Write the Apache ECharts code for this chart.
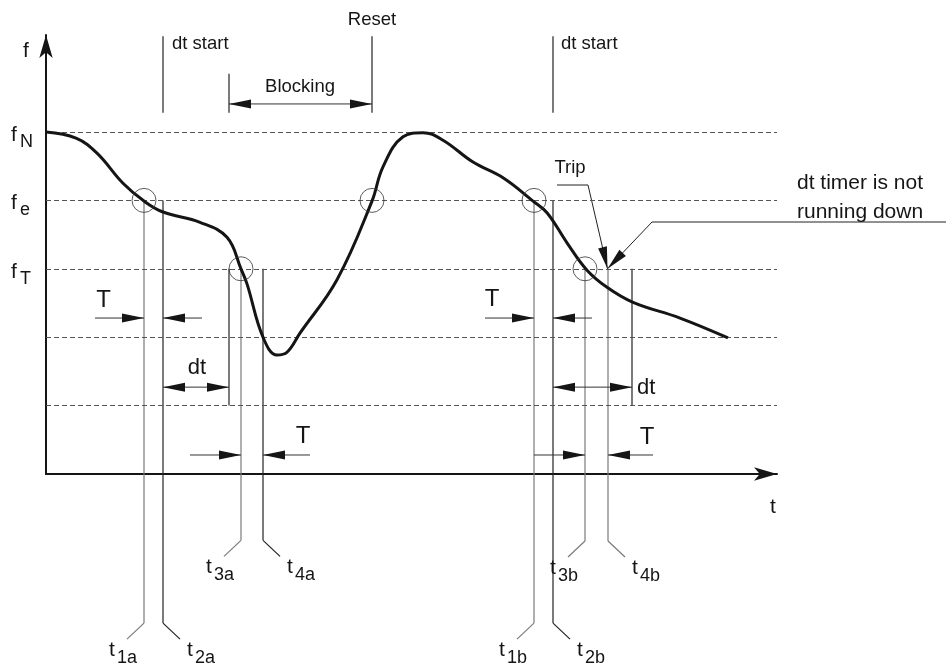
<!DOCTYPE html>
<html><head><meta charset="utf-8">
<script src="https://cdn.jsdelivr.net/npm/echarts@6/dist/echarts.min.js"></script>
<style>html,body{margin:0;padding:0;background:#fff}#c{width:946px;height:667px}</style>
</head><body><div id="c"></div>
<script>
// ---------- data (t in time units, f in frequency-level units) ----------
const levels = [5, 4, 3, 2, 1];
const levelLabels = [
  {f: 5, main: 'f', sub: 'N'},
  {f: 4, main: 'f', sub: 'e'},
  {f: 3, main: 'f', sub: 'T'}
];
const curveT = [0, 3.0, 5.1, 7.7, 9.8, 11.7, 15.4, 18.1, 19.5, 20.1, 21.7, 23.1, 24.1, 25.4, 29.1, 32.6, 33.7, 35.7, 37.7, 39.7, 42.7, 45.7, 48.7, 50.1, 52.1, 54.1, 56.1, 58.7, 63.4, 68.2];
const curveF = [5.0, 4.91, 4.69, 4.25, 3.99, 3.83, 3.68, 3.46, 3.0, 2.78, 2.0, 1.74, 1.78, 2.06, 2.84, 3.99, 4.49, 4.93, 4.99, 4.88, 4.56, 4.33, 3.99, 3.82, 3.38, 2.98, 2.73, 2.51, 2.28, 1.99];
const crossings = [[9.8, 4], [19.5, 3], [32.6, 4], [48.8, 4], [53.9, 3]];
// vertical time markers: name, t, top f, bottom f, leader side, tone
const timeMarkers = [
  {name: '1a', t: 9.8,  top: 4, bottom: -2.18, side: -1, tone: 'grey'},
  {name: '2a', t: 11.7, top: 4, bottom: -2.18, side: 1,  tone: 'dark'},
  {name: '3a', t: 19.5, top: 3, bottom: -0.97, side: -1, tone: 'grey'},
  {name: '4a', t: 21.7, top: 3, bottom: -0.97, side: 1,  tone: 'dark'},
  {name: '1b', t: 48.8, top: 4, bottom: -2.18, side: -1, tone: 'grey'},
  {name: '2b', t: 50.7, top: 4, bottom: -2.18, side: 1,  tone: 'dark'},
  {name: '3b', t: 53.9, top: 3, bottom: -0.98, side: -1, tone: 'grey'},
  {name: '4b', t: 56.2, top: 3, bottom: -0.98, side: 1,  tone: 'grey'}
];
// plain vertical guide segments: [t, f1, f2]
const guideLines = [
  [11.7, 6.40, 5.28], [50.7, 6.40, 5.28], [18.3, 5.85, 5.28],
  [32.6, 6.40, 5.28], [18.3, 3, 1], [58.6, 3, 1]
];
// single-head arrows [tFrom, tTo, f]
const singleArrows = [
  [4.9, 9.8, 2.28], [15.6, 11.7, 2.28], [14.4, 19.5, 0.278], [26.4, 21.7, 0.278],
  [43.9, 48.8, 2.28], [54.6, 50.7, 2.28], [48.8, 53.9, 0.278], [60.7, 56.2, 0.278]
];
// double-head arrows [t1, t2, f]
const doubleArrows = [[11.7, 18.3, 1.27], [50.7, 58.6, 1.27], [18.3, 32.6, 5.41]];
// pointer polylines (arrowhead at last point)
const pointers = [
  [[51.1, 4.225], [54.2, 4.225], [56.15, 3.0]],
  [[90, 3.684], [60.6, 3.684], [56.15, 3.0]]
];
// text annotations
const notes = [
  {text: 'f', t: -2.0, f: 6.18, role: 'axis', align: 'center'},
  {text: 't', t: 72.7, f: -0.48, role: 'axis', align: 'center'},
  {text: 'dt start', t: 12.6, f: 6.29, role: 'label', align: 'left'},
  {text: 'dt start', t: 51.5, f: 6.29, role: 'label', align: 'left'},
  {text: 'Reset', t: 32.6, f: 6.64, role: 'label', align: 'center'},
  {text: 'Blocking', t: 25.4, f: 5.66, role: 'label', align: 'center'},
  {text: 'Trip', t: 52.4, f: 4.47, role: 'label', align: 'center'},
  {text: 'dt timer is not', t: 75.1, f: 4.25, role: 'big', align: 'left'},
  {text: 'running down', t: 75.1, f: 3.83, role: 'big', align: 'left'},
  {text: 'T', t: 5.75, f: 2.54, role: 'T', align: 'center'},
  {text: 'T', t: 25.7, f: 0.556, role: 'T', align: 'center'},
  {text: 'T', t: 44.6, f: 2.56, role: 'T', align: 'center'},
  {text: 'T', t: 60.1, f: 0.54, role: 'T', align: 'center'},
  {text: 'dt', t: 15.1, f: 1.55, role: 'dt', align: 'center'},
  {text: 'dt', t: 59.1, f: 1.26, role: 'dt', align: 'left'}
];

// ---------- styles ----------
const FONT = '"Liberation Sans", Arial, Helvetica, sans-serif';
const INK = '#151515';
const SIZES = {axis: 21, label: 18.5, big: 21, T: 24, dt: 22};
const TONES = {grey: '#7a7a7a', dark: '#222'};
const LEADER = [1.7, 0.234];

function head(tip, from, L, W) {
  const dx = tip[0] - from[0], dy = tip[1] - from[1];
  const len = Math.hypot(dx, dy) || 1;
  const ux = dx / len, uy = dy / len;
  const bx = tip[0] - ux * L, by = tip[1] - uy * L;
  return {type: 'polygon', shape: {points: [tip, [bx - uy * W, by + ux * W], [bx + uy * W, by - ux * W]]}, style: {fill: INK}};
}
function seg(p1, p2, color, w) {
  return {type: 'line', shape: {x1: p1[0], y1: p1[1], x2: p2[0], y2: p2[1]}, style: {stroke: color, lineWidth: w}};
}
function txt(x, y, text, size, align) {
  return {type: 'text', x: x, y: y, style: {text: text, fontSize: size, fontFamily: FONT, fill: INK, align: align, verticalAlign: 'middle'}};
}

const chart = echarts.init(document.getElementById('c'));
const option = {
  animation: false,
  backgroundColor: '#fff',
  grid: {left: 46, right: 169, top: 35, bottom: 193},
  xAxis: {type: 'value', min: 0, max: 73.1, splitLine: {show: false}, axisTick: {show: false}, axisLabel: {show: false},
    axisLine: {show: true, onZero: false, lineStyle: {color: INK, width: 2}, symbol: ['none', 'arrow'], symbolSize: [10, 23], symbolOffset: [0, 0]}},
  yAxis: {type: 'value', min: 0, max: 6.418, splitLine: {show: false}, axisTick: {show: false}, axisLabel: {show: false},
    axisLine: {show: true, onZero: false, lineStyle: {color: INK, width: 2}, symbol: ['none', 'arrow'], symbolSize: [10, 23], symbolOffset: [0, 0]}},
  series: [
    {
      type: 'line', data: curveT.map((t, i) => [t, curveF[i]]), smooth: 0.4, symbol: 'none',
      lineStyle: {color: INK, width: 3}, z: 5,
      markLine: {silent: true, symbol: 'none', label: {show: false},
        lineStyle: {color: '#555', type: [5, 3], width: 1},
        data: levels.map(v => ({yAxis: v}))}
    },
    {
      type: 'scatter', data: crossings, symbol: 'circle', symbolSize: 24, z: 6,
      itemStyle: {color: 'rgba(0,0,0,0)', borderColor: '#333', borderWidth: 1}
    },
    {
      type: 'custom', clip: false, z: 4,
      data: timeMarkers.map(m => [m.t, m.top]),
      renderItem: function (params, api) {
        const m = timeMarkers[params.dataIndex];
        const top = api.coord([m.t, m.top]);
        const bot = api.coord([m.t, m.bottom]);
        const end = api.coord([m.t + m.side * LEADER[0], m.bottom - LEADER[1]]);
        const c = TONES[m.tone];
        const tx = m.side < 0 ? end[0] - 18 : end[0] + 7;
        return {type: 'group', children: [
          seg(top, bot, c, 1.2), seg(bot, end, c, 1.2),
          txt(tx, end[1] + 11, 't', 21, 'left'),
          txt(tx + 8, end[1] + 19, m.name, 18, 'left')
        ]};
      }
    },
    {
      type: 'custom', clip: false, z: 4,
      data: guideLines.map(g => [g[0], g[1]]),
      renderItem: function (params, api) {
        const g = guideLines[params.dataIndex];
        return seg(api.coord([g[0], g[1]]), api.coord([g[0], g[2]]), '#222', 1.2);
      }
    },
    {
      type: 'custom', clip: false, z: 4,
      data: singleArrows.map(a => [a[0], a[2]]),
      renderItem: function (params, api) {
        const a = singleArrows[params.dataIndex];
        const p1 = api.coord([a[0], a[2]]), p2 = api.coord([a[1], a[2]]);
        return {type: 'group', children: [seg(p1, p2, '#333', 1), head(p2, p1, 22, 4.5)]};
      }
    },
    {
      type: 'custom', clip: false, z: 4,
      data: doubleArrows.map(a => [a[0], a[2]]),
      renderItem: function (params, api) {
        const a = doubleArrows[params.dataIndex];
        const p1 = api.coord([a[0], a[2]]), p2 = api.coord([a[1], a[2]]);
        return {type: 'group', children: [seg(p1, p2, '#333', 1), head(p2, p1, 22, 4.5), head(p1, p2, 22, 4.5)]};
      }
    },
    {
      type: 'custom', clip: false, z: 4,
      data: pointers.map(p => p[0]),
      renderItem: function (params, api) {
        const pts = pointers[params.dataIndex].map(p => api.coord(p));
        const n = pts.length;
        return {type: 'group', children: [
          {type: 'polyline', shape: {points: pts}, style: {stroke: '#222', lineWidth: 1, fill: null}},
          head(pts[n - 1], pts[n - 2], 22, 4.5)
        ]};
      }
    },
    {
      type: 'custom', clip: false, z: 7,
      data: notes.map(n => [n.t, n.f]),
      renderItem: function (params, api) {
        const n = notes[params.dataIndex];
        const p = api.coord([n.t, n.f]);
        return txt(p[0], p[1], n.text, SIZES[n.role], n.align);
      }
    },
    {
      type: 'custom', clip: false, z: 7,
      data: levelLabels.map(l => [0, l.f]),
      renderItem: function (params, api) {
        const l = levelLabels[params.dataIndex];
        const p = api.coord([0, l.f]);
        return {type: 'group', children: [
          txt(p[0] - 35, p[1] + 3, l.main, 21, 'left'),
          txt(p[0] - 26, p[1] + 10, l.sub, 18, 'left')
        ]};
      }
    }
  ]
};
chart.setOption(option);
</script></body></html>
